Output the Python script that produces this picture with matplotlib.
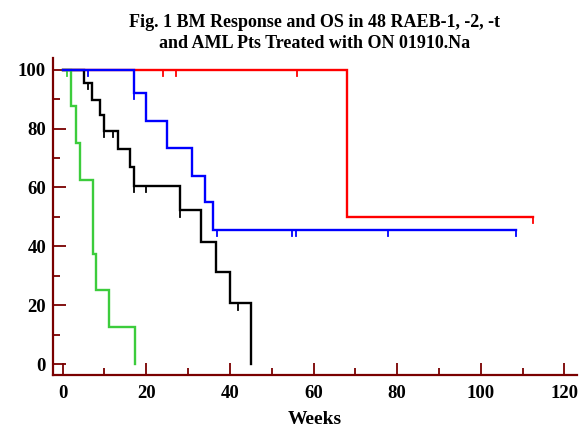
import numpy as np
import matplotlib
matplotlib.use("Agg")
import matplotlib.pyplot as plt
from matplotlib.ticker import MultipleLocator

# Kaplan-Meier step curves (weeks, % surviving)
red_t = [0, 68, 112.4]
red_s = [100, 50, 50]
red_cens = [24, 27, 56, 112.4]

blue_t = [0, 17, 20, 25, 31, 34, 36, 108.5]
blue_s = [100, 92.1, 82.4, 73.4, 63.9, 54.9, 45.6, 45.6]
blue_cens = [6, 17, 37, 54.8, 55.8, 77.7, 108.5]

black_t = [0, 5, 7, 9, 10, 13.2, 16, 17, 28, 33, 36.8, 40, 45]
black_s = [100, 95.5, 89.8, 84.7, 79.3, 73.1, 66.9, 60.5, 52.2, 41.5, 31.4, 20.6, 0]
black_cens = [6, 10, 12, 17, 20, 28, 42]

green_t = [0, 2.1, 3.2, 4.1, 7.2, 8, 11.1, 17.2]
green_s = [100, 87.5, 75, 62.5, 37.5, 25, 12.5, 0]
green_cens = [1.1]

x_ticks = [0, 20, 40, 60, 80, 100, 120]
y_ticks = [0, 20, 40, 60, 80, 100]

axis_col = '#7a0000'
plt.rcParams['font.family'] = ['Liberation Serif', 'DejaVu Serif']
plt.rcParams['font.weight'] = 'bold'

fig = plt.figure(figsize=(5.79, 4.29), dpi=100)
ax = fig.add_axes([0.0915, 0.126, 0.905, 0.739])


def km(t, s, cens, color):
    ax.step(t, s, where='post', color=color, lw=1.7, solid_joinstyle='miter')
    t = np.asarray(t)
    s = np.asarray(s)
    for c in cens:
        i = np.searchsorted(t, c, side='right') - 1
        lvl = s[i]
        ax.plot([c, c], [lvl, lvl - 2.1], color=color, lw=1.3)


km(red_t, red_s, red_cens, '#ff0000')
km(black_t, black_s, black_cens, '#000000')
km(green_t, green_s, green_cens, '#3ccc3c')
km(blue_t, blue_s, blue_cens, '#0000ff')

ax.set_xlim(-2.3, 123)
ax.set_ylim(-3.7, 104)
ax.set_xticks(x_ticks)
ax.set_yticks(y_ticks)
ax.xaxis.set_minor_locator(MultipleLocator(10))
ax.yaxis.set_minor_locator(MultipleLocator(10))

for side in ['top', 'right']:
    ax.spines[side].set_visible(False)
for side in ['left', 'bottom']:
    ax.spines[side].set_color(axis_col)
    ax.spines[side].set_linewidth(1.6)

ax.tick_params(which='major', direction='in', length=9, width=1.3,
               color=axis_col, labelsize=13.5, pad=5)
ax.tick_params(axis='x', which='major', pad=7)
ax.tick_params(which='minor', direction='in', length=5, width=1.3,
               color=axis_col)
for lab in ax.get_xticklabels() + ax.get_yticklabels():
    lab.set_fontweight('bold')

ax.set_xlabel('Weeks', fontsize=14, fontweight='bold', labelpad=7)
ax.set_title('Fig. 1 BM Response and OS in 48 RAEB-1, -2, -t\n'
             'and AML Pts Treated with ON 01910.Na',
             fontsize=13, fontweight='bold', pad=7, linespacing=1.3)

fig.savefig('out.png', dpi=100)
